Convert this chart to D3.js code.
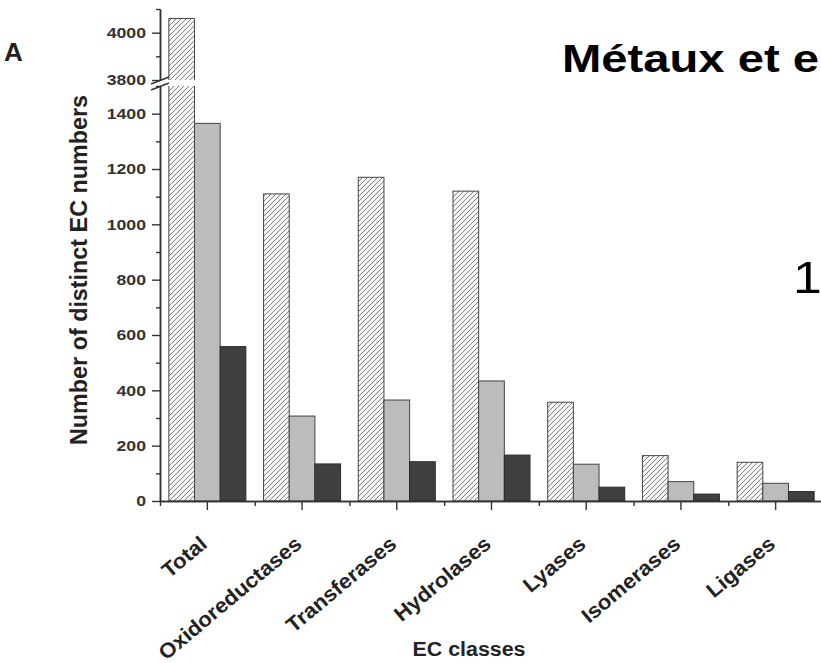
<!DOCTYPE html>
<html>
<head>
<meta charset="utf-8">
<script src="https://cdn.jsdelivr.net/npm/d3@7"></script>
<style>
  html, body { margin: 0; padding: 0; background: #fff; }
  svg { display: block; }
  text { font-family: "Liberation Sans", Arial, sans-serif; }
</style>
</head>
<body>
<svg id="chart" width="821" height="663"></svg>
<script>
// ---- data ----
const categories = ["Total", "Oxidoreductases", "Transferases", "Hydrolases", "Lyases", "Isomerases", "Ligases"];
const seriesNames = ["hatched", "gray", "dark"];
const hatchedValues = [4060, 1110, 1170, 1120, 357, 164, 140];
const grayValues = [1365, 307, 365, 434, 133, 70, 64];
const darkValues = [558, 134, 142, 166, 50, 25, 34];
const lowerMajorTicks = [0, 200, 400, 600, 800, 1000, 1200, 1400];
const lowerMinorTicks = [100, 300, 500, 700, 900, 1100, 1300, 1500];
const upperMajorTicks = [3800, 4000];
const upperMinorTicks = [3900, 4100];
const titleText = "Métaux et e";
const panelLetter = "A";
const sideText = "1";
const yLabel = "Number of distinct EC numbers";
const xLabel = "EC classes";

const svg = d3.select("#chart");
const axisColor = "#333";

function stretch(sel, k) {
  sel.each(function () {
    const l = this.getComputedTextLength();
    d3.select(this).attr("textLength", l * k).attr("lengthAdjust", "spacingAndGlyphs");
  });
}

// ---- scales ----
const x = d3.scaleBand().domain(categories).range([160, 823]).paddingInner(0.187).paddingOuter(0.0935);
const xs = d3.scaleBand().domain(seriesNames).range([0, x.bandwidth()]);
const xBound = d3.scaleLinear().domain([0, categories.length]).range([160, 823]);
const yLow = d3.scaleLinear().domain([0, 1500]).range([501, 86]);
const yHigh = d3.scaleLinear().domain([3800, 4100]).range([80, 9]);
const breakValue = 1500;

// ---- pattern ----
const defs = svg.append("defs");
const pat = defs.append("pattern").attr("id", "hatch").attr("patternUnits", "userSpaceOnUse")
  .attr("width", 5).attr("height", 5);
pat.append("rect").attr("width", 5).attr("height", 5).attr("fill", "#f7f7f7");
pat.append("path").attr("d", "M0,5 L5,0 M-1,1 L1,-1 M4,6 L6,4")
  .attr("stroke", "#707070").attr("stroke-width", 0.9);

const fills = { hatched: "url(#hatch)", gray: "#bcbcbc", dark: "#404040" };
const strokes = { hatched: "#444", gray: "#444", dark: "#2a2a2a" };

const rows = categories.map((c, i) => ({
  cat: c,
  vals: [
    { s: "hatched", v: hatchedValues[i] },
    { s: "gray", v: grayValues[i] },
    { s: "dark", v: darkValues[i] }
  ]
}));

// ---- bars ----
const gBars = svg.append("g");
rows.forEach(r => {
  r.vals.forEach(d => {
    const bx = x(r.cat) + xs(d.s);
    const w = xs.bandwidth();
    if (d.v <= breakValue) {
      gBars.append("rect")
        .attr("x", bx).attr("y", yLow(d.v))
        .attr("width", w).attr("height", yLow(0) - yLow(d.v))
        .attr("fill", fills[d.s]).attr("stroke", strokes[d.s]).attr("stroke-width", 1);
    } else {
      gBars.append("rect")
        .attr("x", bx).attr("y", yLow(breakValue))
        .attr("width", w).attr("height", yLow(0) - yLow(breakValue))
        .attr("fill", fills[d.s]);
      gBars.append("path")
        .attr("d", `M${bx},${yLow(breakValue)} L${bx},${yLow(0)} L${bx + w},${yLow(0)} L${bx + w},${yLow(breakValue)}`)
        .attr("fill", "none").attr("stroke", strokes[d.s]).attr("stroke-width", 1);
      gBars.append("rect")
        .attr("x", bx).attr("y", yHigh(d.v))
        .attr("width", w).attr("height", yHigh(3800) - yHigh(d.v))
        .attr("fill", fills[d.s]);
      gBars.append("path")
        .attr("d", `M${bx},${yHigh(3800)} L${bx},${yHigh(d.v)} L${bx + w},${yHigh(d.v)} L${bx + w},${yHigh(3800)}`)
        .attr("fill", "none").attr("stroke", strokes[d.s]).attr("stroke-width", 1);
    }
  });
});

// ---- y axes ----
function styleAxis(g) {
  g.selectAll("path.domain").attr("stroke", axisColor).attr("stroke-width", 1.5);
  g.selectAll(".tick line").attr("stroke", axisColor).attr("stroke-width", 1.4);
  g.selectAll(".tick text").attr("fill", "#333").attr("font-size", 15).attr("font-weight", "bold")
    .attr("font-family", "Liberation Sans, Arial, sans-serif");
}
const yLowMajor = svg.append("g").attr("transform", "translate(160,0)")
  .call(d3.axisLeft(yLow).tickValues(lowerMajorTicks).tickSize(8).tickSizeOuter(0).tickPadding(6).tickFormat(d3.format("d")));
styleAxis(yLowMajor);
const yLowMinor = svg.append("g").attr("transform", "translate(160,0)")
  .call(d3.axisLeft(yLow).tickValues(lowerMinorTicks).tickSize(4).tickSizeOuter(0).tickFormat(""));
styleAxis(yLowMinor);
const yHighMajor = svg.append("g").attr("transform", "translate(160,0)")
  .call(d3.axisLeft(yHigh).tickValues(upperMajorTicks).tickSize(8).tickSizeOuter(0).tickPadding(6).tickFormat(d3.format("d")));
styleAxis(yHighMajor);
const yHighMinor = svg.append("g").attr("transform", "translate(160,0)")
  .call(d3.axisLeft(yHigh).tickValues(upperMinorTicks).tickSize(4).tickSizeOuter(0).tickFormat(""));
styleAxis(yHighMinor);
[yLowMajor, yHighMajor].forEach(g => stretch(g.selectAll(".tick text"), 1.18));

// break marks
svg.append("path")
  .attr("d", `M151,${yHigh(3800) + 4} L169,${yHigh(3800) - 3} M151,${yLow(breakValue) + 4} L169,${yLow(breakValue) - 3}`)
  .attr("stroke", axisColor).attr("stroke-width", 1.4).attr("fill", "none");

// ---- x axis ----
const xAxisG = svg.append("g").attr("transform", "translate(0,501)")
  .call(d3.axisBottom(x).tickSize(9).tickSizeOuter(0).tickFormat(""));
styleAxis(xAxisG);
const xMinorG = svg.append("g").attr("transform", "translate(0,501)")
  .call(d3.axisBottom(xBound).tickValues(d3.range(categories.length + 1)).tickSize(5).tickSizeOuter(0).tickFormat(""));
styleAxis(xMinorG);

const xLabels = svg.append("g").selectAll("text").data(categories).join("text")
  .attr("transform", d => `translate(${x(d) + x.bandwidth() / 2 + 1},546) rotate(-40)`)
  .attr("text-anchor", "end")
  .attr("font-size", 21).attr("font-weight", "bold").attr("fill", "#222")
  .text(d => d);
stretch(xLabels, 1.05);

// ---- titles / labels ----
svg.append("text")
  .attr("transform", "translate(87,270) rotate(-90)")
  .attr("text-anchor", "middle")
  .attr("font-size", 23).attr("font-weight", "bold").attr("fill", "#222")
  .attr("textLength", 350).attr("lengthAdjust", "spacingAndGlyphs")
  .text(yLabel);

svg.append("text")
  .attr("x", 469).attr("y", 656)
  .attr("text-anchor", "middle")
  .attr("font-size", 20).attr("font-weight", "bold").attr("fill", "#222")
  .attr("textLength", 113).attr("lengthAdjust", "spacingAndGlyphs")
  .text(xLabel);

svg.append("text")
  .attr("x", 4).attr("y", 61)
  .attr("font-size", 26).attr("font-weight", "bold").attr("fill", "#222")
  .text(panelLetter);

const title = svg.append("text")
  .attr("x", 562).attr("y", 72)
  .attr("font-size", 39).attr("font-weight", "bold").attr("fill", "#000")
  .text(titleText);
stretch(title, 1.21);

const side = svg.append("text")
  .attr("x", 793).attr("y", 293)
  .attr("font-size", 45).attr("fill", "#000")
  .text(sideText);
stretch(side, 1.15);
</script>
</body>
</html>
